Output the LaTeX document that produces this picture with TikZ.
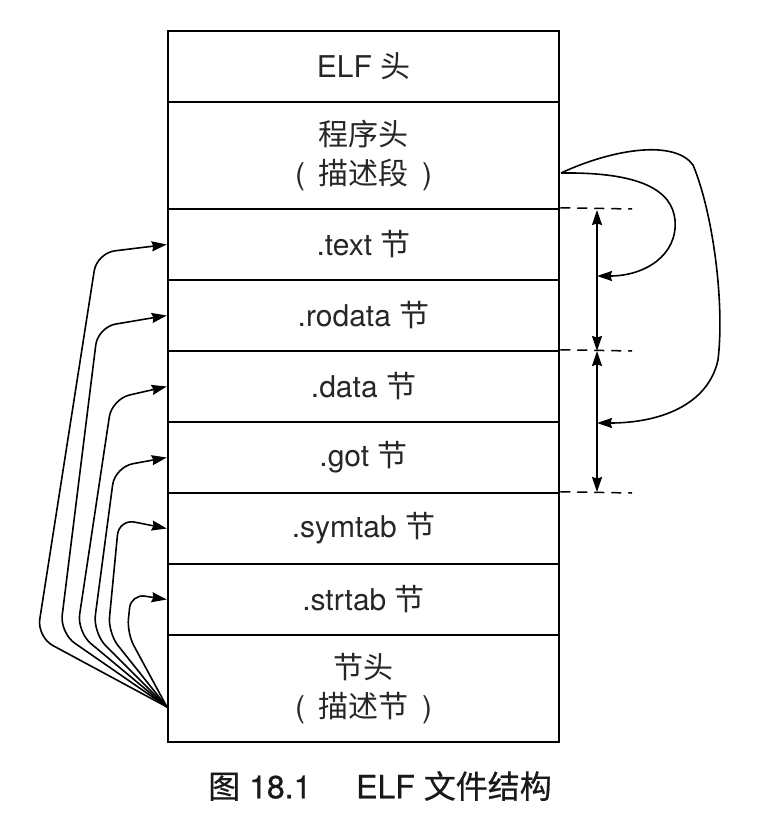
\documentclass[tikz,border=0pt]{standalone}
\usepackage{fontspec}
\setmainfont{TeX Gyre Heros}
\newfontfamily\cjk{Noto Sans CJK SC}
\newfontfamily\cjkcap[FakeBold=0.6]{Noto Sans CJK SC}
\newfontfamily\latcap[FakeBold=0.6]{TeX Gyre Heros}
\usetikzlibrary{arrows.meta}
\newcommand{\paren}[1]{(\hspace{0.45em}{\cjk #1}\hspace{0.45em})}
\begin{document}
\begin{tikzpicture}[x=1pt,y=-1pt,
  row/.style={draw, line width=2.5pt, minimum width=391pt, inner sep=0pt, align=center,
    font=\fontsize{30}{39}\selectfont, text=black!85},
  conn/.style={line width=1.6pt, -{Stealth[inset=1.5pt,length=15pt,width=10pt]}},
  dbl/.style={line width=1.6pt, {Stealth[inset=1.5pt,length=15pt,width=10pt]}-{Stealth[inset=1.5pt,length=15pt,width=10pt]}},
  guide/.style={line width=1.5pt, dash pattern=on 10pt off 7pt},
  captext/.style={font=\fontsize{32}{36}\selectfont, text=black!90}]
\useasboundingbox (0,0) rectangle (756,818);
% rows
\node[row, minimum height=71pt]  (elf)    at (363.5,66.5)  {ELF {\cjk 头}};
\node[row, minimum height=107pt] (prog)   at (363.5,155.5) {{\cjk 程序头}\\\paren{描述段}};
\node[row, minimum height=71pt]  (text)   at (363.5,244.5) {.text {\cjk 节}};
\node[row, minimum height=71pt]  (rodata) at (363.5,315.5) {.rodata {\cjk 节}};
\node[row, minimum height=71pt]  (data)   at (363.5,386.5) {.data {\cjk 节}};
\node[row, minimum height=71pt]  (got)    at (363.5,457.5) {.got {\cjk 节}};
\node[row, minimum height=71pt]  (symtab) at (363.5,528.5) {.symtab {\cjk 节}};
\node[row, minimum height=71pt]  (strtab) at (363.5,599.5) {.strtab {\cjk 节}};
\node[row, minimum height=107pt] (sh)     at (363.5,688.5) {{\cjk 节头}\\\paren{描述节}};
% caption
\node[captext] (caption) at (380,786) {{\cjkcap 图} {\latcap 18.1}\hspace{1.4em}{\latcap ELF} {\cjkcap 文件结构}};
% left connectors
\coordinate (src) at (167,707);
\draw[conn, rounded corners=18pt] (src) -- (37,637) -- (97,253) -- (text.west);
\draw[conn, rounded corners=18pt] (src) -- (60,633) -- (98,327) -- (rodata.west);
\draw[conn, rounded corners=18pt] (src) -- (77,632) -- (112,399) -- (data.west);
\draw[conn, rounded corners=18pt] (src) -- (93,633) -- (115,467) -- (got.west);
\draw[conn, rounded corners=16pt] (src) -- (108,633) -- (119,519) -- (symtab.west);
\draw[conn, rounded corners=14pt] (src) -- (127,633) -- (131,594) -- (strtab.west);
% right side
\coordinate (p) at (561,173);
\coordinate (a1) at (597,276);
\coordinate (a2) at (597,423);
\draw[conn] (p) .. controls (640,172) and (672,190) .. (675,220)
  .. controls (678,255) and (645,276) .. (a1);
\draw[conn] (p) .. controls (615,148) and (675,140) .. (693,165)
  .. controls (712,210) and (725,300) .. (718,360)
  .. controls (708,405) and (660,423) .. (a2);
% dashed guides
\coordinate (d1) at (632,209);
\coordinate (d2) at (632,351);
\coordinate (d3) at (632,493);
\draw[guide] (text.north east) -- (d1);
\draw[guide] (data.north east) -- (d2);
\draw[guide] (symtab.north east) -- (d3);
% vertical extents
\coordinate (v1) at (597,210);
\coordinate (v2) at (597,351);
\coordinate (v3) at (597,492);
\draw[dbl] (v1) -- (v2);
\draw[dbl] (v2) -- (v3);
\end{tikzpicture}
\end{document}
